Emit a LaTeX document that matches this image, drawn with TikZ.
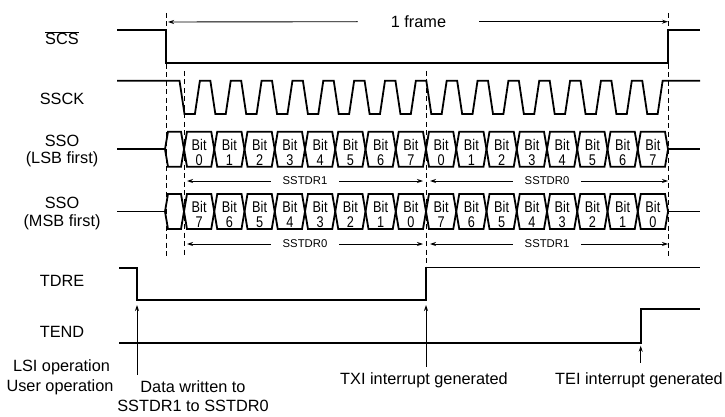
\documentclass[tikz,border=0pt]{standalone}
\usepackage{fontspec}
\setmainfont{Liberation Sans}
\usepackage{graphicx}
\usetikzlibrary{arrows.meta}

\begin{document}
\begin{tikzpicture}[
  x=1pt, y=-1pt,
  >={Stealth[length=6pt,width=4pt]},
  wave/.style={line width=1.8pt, line join=miter},
  guide/.style={line width=1pt, dash pattern=on 5pt off 3.5pt},
  ann/.style={->, line width=0.9pt},
  lbl/.style={font=\fontsize{16.3}{17.5}\selectfont, align=center, inner sep=1pt},
  bitlbl/.style={font=\fontsize{15.5}{14.6}\selectfont, align=center, inner sep=0pt},
  reglbl/.style={font=\fontsize{11.3}{12}\selectfont, inner xsep=12pt, inner ysep=1pt}
]
\useasboundingbox (0,0) rectangle (725,417);

% frame and bit boundaries
\coordinate (fs)  at (166,22);
\coordinate (b0)  at (184,0);
\coordinate (b8)  at (426,0);
\coordinate (b16) at (668,0);

\draw[guide] (166,13) -- (166,256);
\draw[guide] (184,71) -- (184,256);
\draw[guide] (426,71) -- (426,267);
\draw[guide] (668,13) -- (668,256);

% signal names
\node[lbl, anchor=base] (scs)  at (62,45)    {$\overline{\mbox{SCS}}$};
\node[lbl] (sck)  at (62,99.3)  {SSCK};
\node[lbl] (lsb)  at (62,151)   {SSO\\(LSB first)};
\node[lbl] (msb)  at (62,213.5) {SSO\\(MSB first)};
\node[lbl] (tdre) at (62,280.7) {TDRE};
\node[lbl] (tend) at (62,331.7) {TEND};
\node[lbl, anchor=base] (lsi)  at (61.5,371.7) {LSI operation};
\node[lbl, anchor=base] (user) at (60,391.7)   {User operation};

% SCS and SSCK
\draw[wave] (117,30) -- (166,30) -- (166,62.7) -- (668,62.7) -- (668,30) -- (700,30);
\draw[wave] (117,80.7) \foreach \k in {0,...,15} {
    -- ({179.5+30.85*\k},80.7) -- ({184.5+30.85*\k},114)
    -- ({194.9+30.85*\k},114)  -- ({199.9+30.85*\k},80.7) } -- (700,80.7);

% SSO data cells
\foreach \yc/\r/\f in {149.2/lsb/0, 211.5/msb/1} {
  \draw[wave] (117,\yc) -- (165,\yc);
  \draw[wave] (668,\yc) -- (700,\yc);
  \draw[wave] (165,\yc) -- (168,\yc-17.5) -- (181,\yc-17.5) -- (184,\yc)
              -- (181,\yc+17.5) -- (168,\yc+17.5) -- cycle;
  \foreach \k in {0,...,15} {
    \pgfmathsetmacro{\a}{184+30.25*\k}
    \pgfmathsetmacro{\b}{\a+30.25}
    \pgfmathtruncatemacro{\n}{abs(7*\f-mod(\k,8))}
    \draw[wave] (\a,\yc) -- (\a+3,\yc-17.5) -- (\b-3,\yc-17.5) -- (\b,\yc)
                -- (\b-3,\yc+17.5) -- (\a+3,\yc+17.5) -- cycle;
    \node[bitlbl] (\r\k) at ({(\a+\b)/2},\yc+3)
      {\scalebox{.82}[1]{Bit}\\\scalebox{.82}[1]{\n}};
  }
}

% register spans
\node[reglbl] (lsbl) at (305,181) {SSTDR1};
\node[reglbl] (lsbr) at (547,181) {SSTDR0};
\node[reglbl] (msbl) at (305,244) {SSTDR0};
\node[reglbl] (msbr) at (547,244) {SSTDR1};
\draw[ann, shorten >=3pt] (lsbl.west) -- (lsbl.west -| b0);
\draw[ann, shorten >=3pt] (lsbl.east) -- (lsbl.east -| b8);
\draw[ann, shorten >=4pt] (lsbr.west) -- (lsbr.west -| b8);
\draw[ann] (lsbr.east) -- (lsbr.east -| b16);
\draw[ann, shorten >=3pt] (msbl.west) -- (msbl.west -| b0);
\draw[ann, shorten >=3pt] (msbl.east) -- (msbl.east -| b8);
\draw[ann, shorten >=4pt] (msbr.west) -- (msbr.west -| b8);
\draw[ann] (msbr.east) -- (msbr.east -| b16);

% one frame
\node[lbl, inner xsep=33pt] (frame) at (418.5,21.7) {1 frame};
\draw[ann, shorten >=2pt] (frame.west) -- (fs);
\draw[ann] (frame.east) -- (frame.east -| b16);

% TDRE and TEND
\draw[wave] (119,268) -- (137,268) -- (137,300) -- (426,300) -- (426,267.5) -- (700,267.5);
\draw[wave] (119,342.7) -- (640.7,342.7) -- (640.7,309.3) -- (700,309.3);

% events
\coordinate (wrpt)  at (137,300);
\coordinate (txipt) at (426,300);
\coordinate (teipt) at (640.7,342.7);
\node[lbl, inner sep=0pt, font=\fontsize{16.3}{19}\selectfont] (wr) at (193,396.5) {Data written to\\SSTDR1 to SSTDR0};
\node[lbl] (txi) at (424,380) {TXI interrupt generated};
\node[lbl] (tei) at (639,380) {TEI interrupt generated};
\draw[ann, shorten <=6pt, shorten >=5pt] (wr.north -| wrpt) -- (wrpt);
\draw[ann, shorten <=4.6pt, shorten >=5pt] (txi.north -| txipt) -- (txipt);
\draw[ann, shorten <=8.3pt, shorten >=3pt] (tei.north -| teipt) -- (teipt);
\end{tikzpicture}
\end{document}
